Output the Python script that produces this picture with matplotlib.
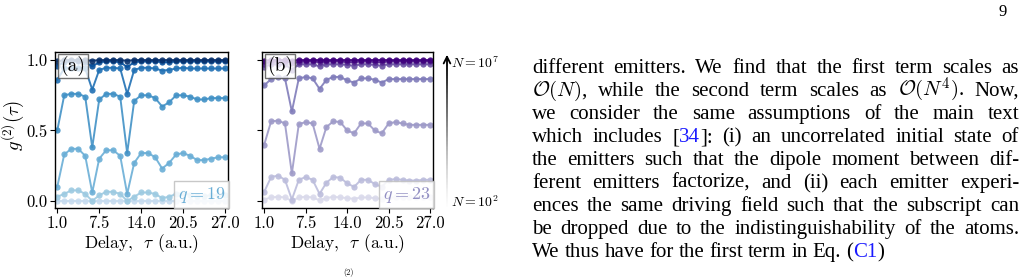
import matplotlib.pyplot as plt
import numpy as np
from matplotlib.collections import LineCollection

plt.rcParams['font.family'] = 'cmr10'
plt.rcParams['mathtext.fontset'] = 'cm'
plt.rcParams['axes.formatter.use_mathtext'] = True

W, H = 1029, 278

# delay axis (25 samples between 1 and 27)
tau = [1.0, 2.08, 3.17, 4.25, 5.33, 6.42, 7.5, 8.58, 9.67, 10.75, 11.83, 12.92,
       14.0, 15.08, 16.17, 17.25, 18.33, 19.42, 20.5, 21.58, 22.67, 23.75,
       24.83, 25.92, 27.0]
xticks = [1.0, 7.5, 14.0, 20.5, 27.0]

# panel (a), q = 19, from N = 1e2 (light) to N = 1e7 (dark)
a0 = [0.0, 0.0, 0.0, 0.0, 0.0, 0.0, 0.0, 0.0, 0.0, 0.0, 0.0, 0.0, 0.0,
      0.0, 0.0, 0.0, 0.0, 0.0, 0.0, 0.0, 0.0, 0.0, 0.0, 0.0, 0.0]
a1 = [0.03, 0.05, 0.075, 0.075, 0.05, 0.0, 0.04, 0.065, 0.065, 0.05, 0.0, 0.03,
      0.06, 0.06, 0.05, 0.02, 0.03, 0.05, 0.055, 0.045, 0.035, 0.035, 0.04, 0.04, 0.04]
a2 = [0.10, 0.33, 0.37, 0.37, 0.32, 0.06, 0.30, 0.36, 0.36, 0.32, 0.05, 0.27,
      0.34, 0.34, 0.31, 0.23, 0.27, 0.33, 0.34, 0.32, 0.29, 0.29, 0.30, 0.31, 0.31]
a3 = [0.50, 0.75, 0.76, 0.76, 0.74, 0.38, 0.72, 0.76, 0.76, 0.74, 0.34, 0.71,
      0.75, 0.75, 0.73, 0.67, 0.70, 0.75, 0.75, 0.74, 0.72, 0.72, 0.73, 0.73, 0.73]
a4 = [0.86, 0.94, 0.945, 0.945, 0.94, 0.79, 0.93, 0.945, 0.945, 0.94, 0.76, 0.93,
      0.945, 0.945, 0.94, 0.925, 0.93, 0.94, 0.945, 0.94, 0.94, 0.94, 0.94, 0.94, 0.94]
a5 = [0.96, 0.985, 0.99, 0.99, 0.985, 0.955, 0.985, 0.99, 0.99, 0.985, 0.95, 0.985,
      0.99, 0.99, 0.99, 0.985, 0.985, 0.99, 0.99, 0.99, 0.99, 0.99, 0.99, 0.99, 0.99]
a6 = [0.99, 1.0, 1.0, 1.0, 1.0, 0.995, 1.0, 1.0, 1.0, 1.0, 0.995, 1.0, 1.0,
      1.0, 1.0, 1.0, 1.0, 1.0, 1.0, 1.0, 1.0, 1.0, 1.0, 1.0, 1.0]

# panel (b), q = 23
b0 = [0.01, 0.025, 0.03, 0.025, 0.0, 0.025, 0.03, 0.025, 0.005, 0.02, 0.03, 0.025,
      0.02, 0.015, 0.025, 0.025, 0.02, 0.015, 0.025, 0.025, 0.025, 0.025, 0.025, 0.025, 0.025]
b1 = [0.065, 0.17, 0.18, 0.15, 0.01, 0.15, 0.17, 0.15, 0.05, 0.13, 0.17, 0.165,
      0.125, 0.10, 0.15, 0.15, 0.12, 0.10, 0.15, 0.155, 0.15, 0.145, 0.145, 0.15, 0.15]
b2 = [0.40, 0.565, 0.57, 0.55, 0.195, 0.545, 0.56, 0.55, 0.37, 0.525, 0.565, 0.56,
      0.50, 0.48, 0.55, 0.55, 0.50, 0.48, 0.55, 0.56, 0.55, 0.54, 0.54, 0.54, 0.54]
b3 = [0.82, 0.865, 0.88, 0.87, 0.635, 0.87, 0.88, 0.87, 0.795, 0.86, 0.88, 0.88,
      0.855, 0.84, 0.87, 0.87, 0.86, 0.84, 0.865, 0.865, 0.865, 0.865, 0.865, 0.865, 0.865]
b4 = [0.95, 0.97, 0.97, 0.97, 0.93, 0.97, 0.97, 0.97, 0.955, 0.97, 0.97, 0.97,
      0.965, 0.96, 0.97, 0.97, 0.965, 0.96, 0.97, 0.97, 0.97, 0.97, 0.97, 0.97, 0.97]
b5 = [0.975, 0.985, 0.99, 0.99, 0.98, 0.985, 0.99, 0.99, 0.985, 0.99, 0.99, 0.99,
      0.985, 0.985, 0.99, 0.99, 0.985, 0.985, 0.99, 0.99, 0.99, 0.99, 0.99, 0.99, 0.99]
b6 = [0.995, 1.0, 1.0, 1.0, 0.995, 1.0, 1.0, 1.0, 1.0, 1.0, 1.0, 1.0, 1.0,
      1.0, 1.0, 1.0, 1.0, 1.0, 1.0, 1.0, 1.0, 1.0, 1.0, 1.0, 1.0]

curves_a = [a0, a1, a2, a3, a4, a5, a6]
curves_b = [b0, b1, b2, b3, b4, b5, b6]

para_lines = [
    "different emitters.  We find that the first term scales as",
    r"$\mathcal{O}(N)$, while the second term scales as $\mathcal{O}(N^4)$.  Now,",
    "we consider the same assumptions of the main text",
    "which includes [|34|]: (i) an uncorrelated initial state of",
    "the emitters such that the dipole moment between dif-",
    "ferent emitters factorize, and (ii) each emitter experi-",
    "ences the same driving field such that the subscript can",
    "be dropped due to the indistinguishability of the atoms.",
    "We thus have for the first term in Eq. (|C1|)",
]

fig = plt.figure(figsize=(W / 100, H / 100), dpi=100)


def px_axes(l, r, t, b):
    return fig.add_axes([l / W, 1 - b / H, (r - l) / W, (b - t) / H])


ax_a = px_axes(55, 228, 52, 208)
ax_b = px_axes(262, 433, 52, 208)

cols_a = plt.cm.Blues(np.linspace(0.25, 1.0, 7))
cols_b = plt.cm.Purples(np.linspace(0.25, 1.0, 7))

for ax, curves, cols in [(ax_a, curves_a, cols_a), (ax_b, curves_b, cols_b)]:
    for y, c in zip(curves, cols):
        ax.plot(tau, y, '-o', color=c, lw=1.4, ms=4.5, mew=0, alpha=0.9)
    ax.set_xlim(0.65, 27.45)
    ax.set_ylim(-0.05, 1.057)
    ax.set_xticks(xticks)
    ax.set_xticklabels(['%.1f' % v for v in xticks])
    ax.set_yticks([0.0, 0.5, 1.0])
    ax.tick_params(labelsize=12, length=3.5, width=0.8, pad=2)
    ax.set_xlabel(r'Delay,  $\tau$ (a.u.)', fontsize=12.5, labelpad=1)
    for s in ax.spines.values():
        s.set_linewidth(1.0)

ax_a.set_yticklabels(['0.0', '0.5', '1.0'])
ax_b.set_yticklabels([])

box_lab = dict(boxstyle='square,pad=0.12', fc='white', ec='0.3', alpha=0.8, lw=1.0)
ax_a.text(0.03, 0.975, '(a)', transform=ax_a.transAxes, fontsize=14,
          ha='left', va='top', bbox=box_lab, zorder=5)
ax_b.text(0.03, 0.975, '(b)', transform=ax_b.transAxes, fontsize=14,
          ha='left', va='top', bbox=box_lab, zorder=5)

box_q = dict(boxstyle='square,pad=0.2', fc='white', ec='0.75', alpha=0.85, lw=1.0)
ax_a.text(0.985, 0.02, r'$q = 19$', transform=ax_a.transAxes, fontsize=13,
          color=plt.cm.Blues(0.5), ha='right', va='bottom', bbox=box_q, zorder=5)
ax_b.text(0.985, 0.02, r'$q = 23$', transform=ax_b.transAxes, fontsize=13,
          color=plt.cm.Purples(0.55), ha='right', va='bottom', bbox=box_q, zorder=5)

# overlay in pixel coordinates for the N arrow and the page text
ov = fig.add_axes([0, 0, 1, 1], facecolor='none')
ov.set_xlim(0, W)
ov.set_ylim(H, 0)
ov.axis('off')

ov.text(13, 126, r'$g^{(2)}(\tau)$', fontsize=13.5, rotation=90, ha='center', va='center')

ys = np.linspace(207, 56, 120)
segs = [[(447, ys[i]), (447, ys[i + 1])] for i in range(len(ys) - 1)]
lc = LineCollection(segs, colors=plt.cm.Greys(np.linspace(0.02, 1.0, len(segs))), lw=1.4)
ov.add_collection(lc)
ov.annotate('', xy=(447, 52), xytext=(447, 62),
            arrowprops=dict(arrowstyle='->', lw=1.3, color='k', mutation_scale=12))
ov.text(451, 63, r'$N = 10^7$', fontsize=10, ha='left', va='center')
ov.text(451, 202, r'$N = 10^2$', fontsize=10, ha='left', va='center')

ov.text(1003, 12, '9', fontsize=12, family='Liberation Serif', ha='center', va='center')
ov.text(348, 277, '(2)', fontsize=6, ha='center', va='bottom')

# justified paragraph
r = fig.canvas.get_renderer()
pfont = dict(fontsize=15, family='Liberation Serif')
left, right = 532, 1019
blue = '#1a1aff'
for i, line in enumerate(para_lines):
    yb = 73 + 23 * i
    words = line.split()
    pieces = []
    widths = []
    for w in words:
        segs_w = w.split('|')
        wp = []
        tot = 0
        for k, s in enumerate(segs_w):
            if not s:
                continue
            t = ov.text(0, yb, s, va='baseline', ha='left',
                        color=blue if k % 2 else 'k', **pfont)
            bw = t.get_window_extent(r).width
            wp.append((t, tot))
            tot += bw
        pieces.append(wp)
        widths.append(tot)
    if i == len(para_lines) - 1:
        gap = 5
    else:
        gap = (right - left - sum(widths)) / (len(words) - 1)
    x = left
    for wp, bw in zip(pieces, widths):
        for t, off in wp:
            t.set_x(x + off)
        x += bw + gap

fig.savefig('out.png', dpi=100)
